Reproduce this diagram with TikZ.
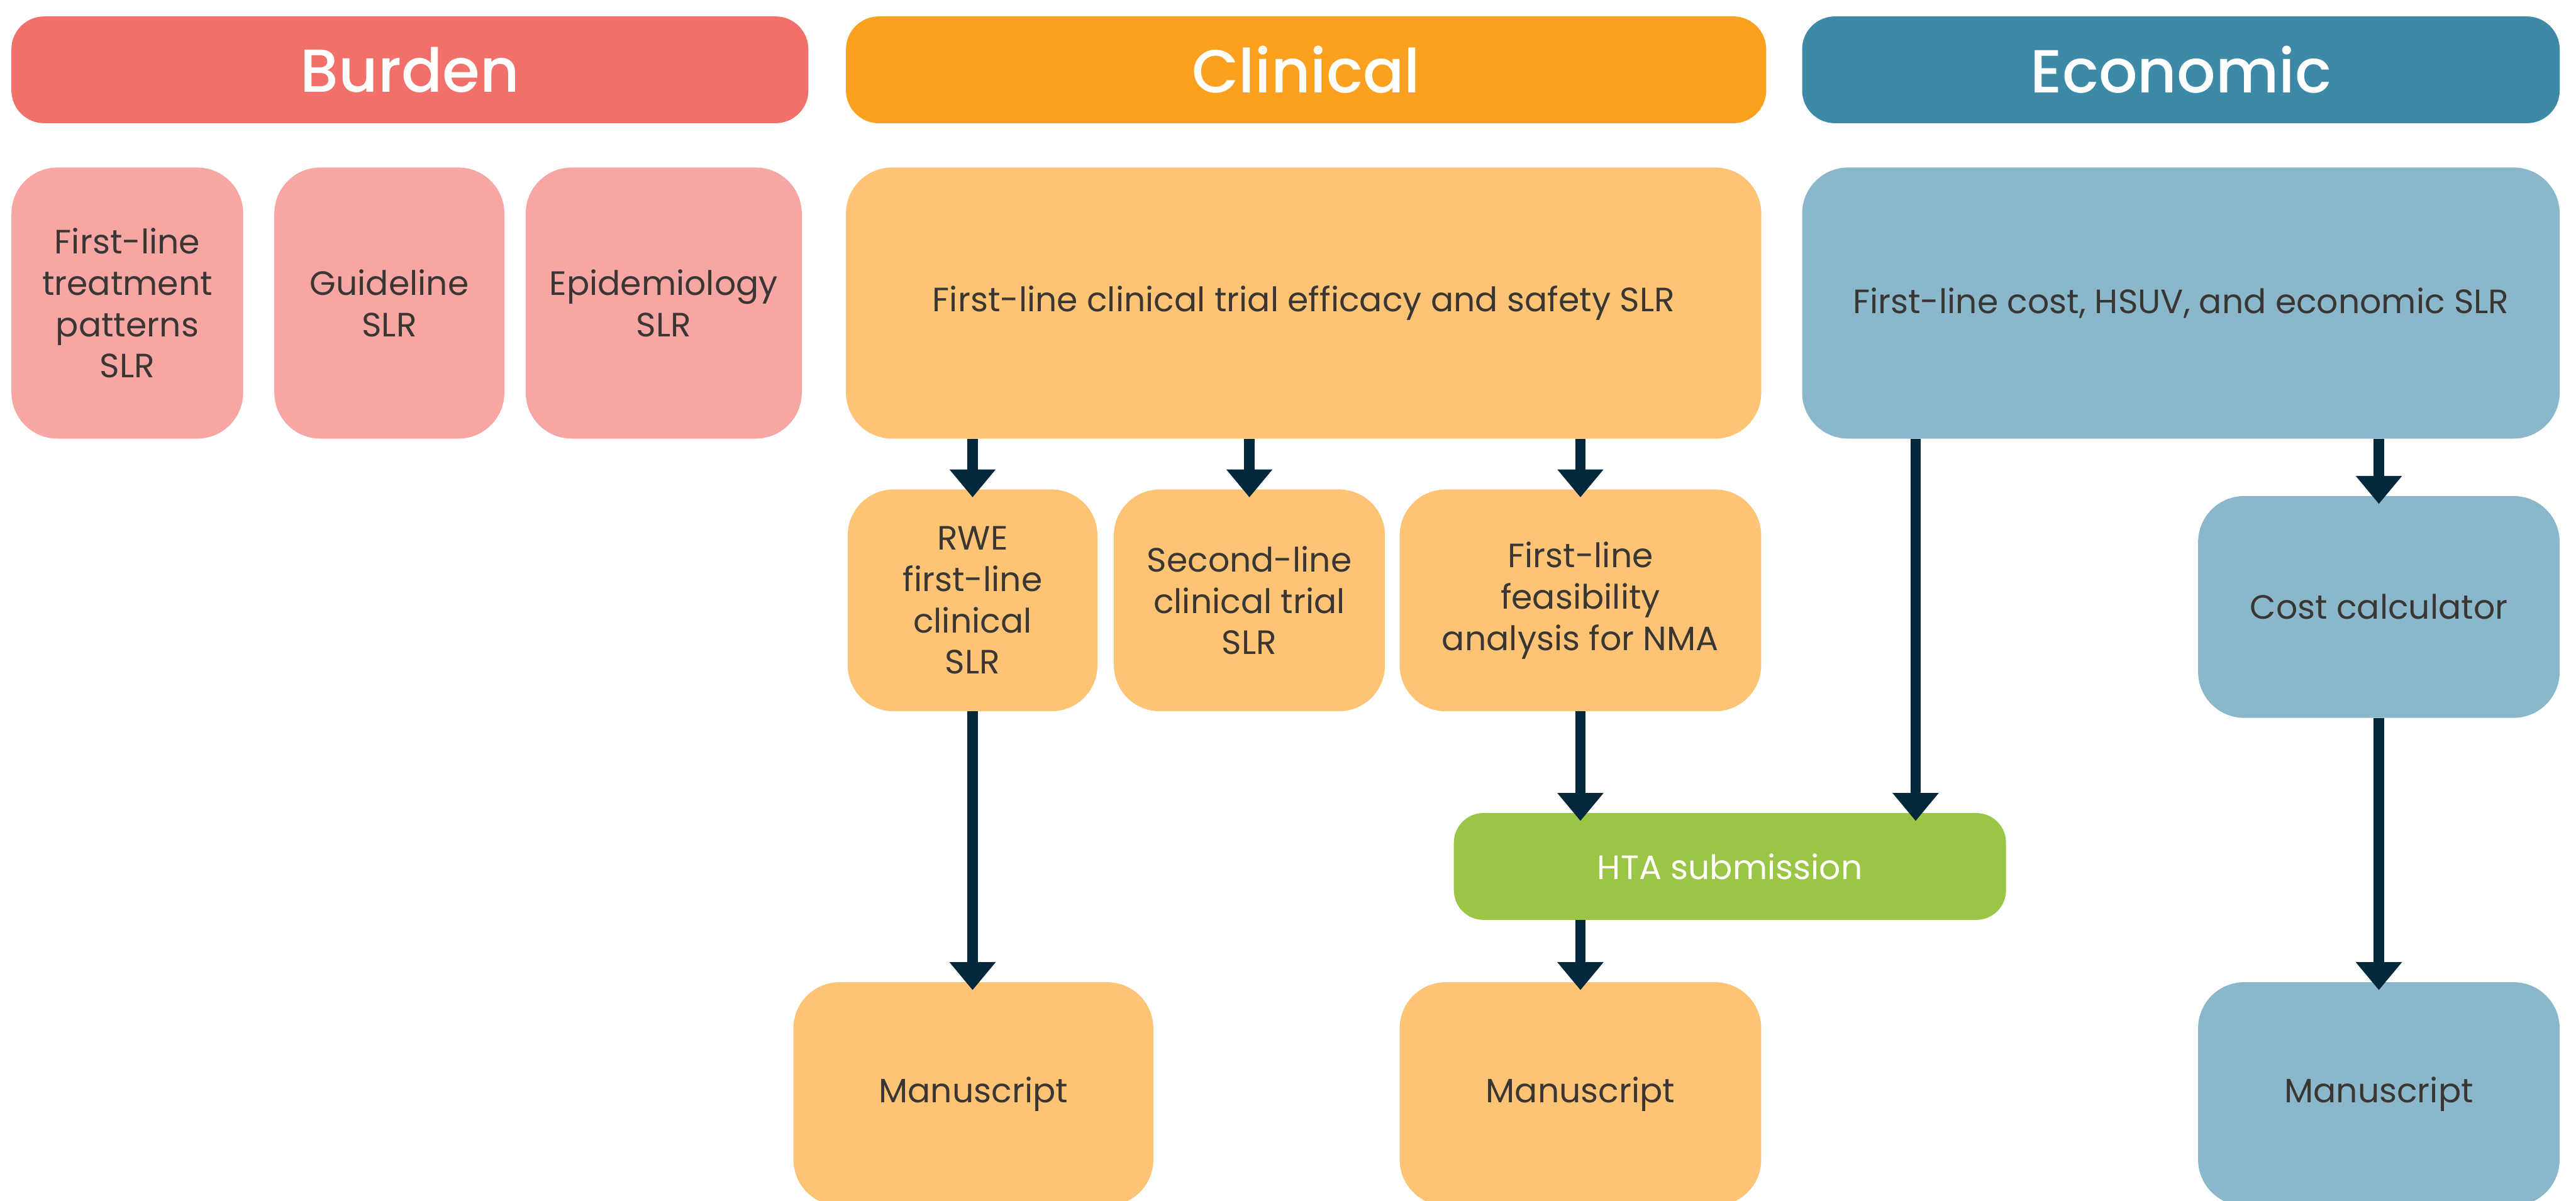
\documentclass[tikz,border=0pt]{standalone}
\usepackage{fontspec}
\setmainfont{Poppins}
\newfontfamily\headfont{Poppins Medium}
\definecolor{burdenred}{HTML}{F1706A}
\definecolor{burdenpink}{HTML}{F6A7A4}
\definecolor{clinorange}{HTML}{FBA11F}
\definecolor{clinpeach}{HTML}{FDC476}
\definecolor{econteal}{HTML}{3D89A8}
\definecolor{econblue}{HTML}{8BB7CB}
\definecolor{htagreen}{HTML}{9BC545}
\definecolor{arrownavy}{HTML}{03283C}
\definecolor{inkgray}{HTML}{3A3634}
\usetikzlibrary{arrows.meta,positioning,calc}

\tikzset{
  header/.style={rectangle, inner sep=0pt, outer sep=0pt, text=white,
    minimum height=1.625cm, rounded corners=0.5cm,
    font=\headfont\fontsize{26.3}{30}\selectfont},
  card/.style={rectangle, inner sep=0pt, outer sep=0pt, text=inkgray,
    align=center, rounded corners=0.7cm,
    font=\fontsize{14.6}{17.9}\selectfont},
  flow/.style={draw=arrownavy, line width=0.16cm,
    -{Triangle[width=0.675cm,length=0.425cm]}, shorten >=-0.12cm}
}

\begin{document}
\begin{tikzpicture}[x=0.025cm, y=-0.025cm]
  \useasboundingbox (0,0) rectangle (1568,731);

  % column headers
  \node[header, fill=burdenred, minimum width=12.125cm] (burden) at (249.5,42.5) {Burden};
  \node[header, fill=clinorange, minimum width=14cm] (clinical) at (795,42.5) {Clinical};
  \node[header, fill=econteal, minimum width=11.525cm] (economic) at (1327.5,42.5) {Economic};

  % burden SLRs
  \node[card, fill=burdenpink, minimum width=3.525cm, minimum height=4.125cm] (treat) at (77.5,184.5)
    {First-line\\treatment\\patterns\\SLR};
  \node[card, fill=burdenpink, minimum width=3.5cm, minimum height=4.125cm] (guide) at (237,184.5)
    {Guideline\\SLR};
  \node[card, fill=burdenpink, minimum width=4.2cm, minimum height=4.125cm] (epi) at (404,184.5)
    {Epidemiology\\SLR};

  % clinical
  \node[card, fill=clinpeach, minimum width=13.925cm, minimum height=4.125cm] (clinslr) at (793.5,184.5)
    {First-line clinical trial efficacy and safety SLR};
  \node[card, fill=clinpeach, minimum width=3.8cm, minimum height=3.375cm] (rwe) at (592,365.5)
    {RWE\\first-line\\clinical\\SLR};
  \node[card, fill=clinpeach, minimum width=4.125cm, minimum height=3.375cm] (second) at (760.5,365.5)
    {Second-line\\clinical trial\\SLR};
  \node[card, fill=clinpeach, minimum width=5.5cm, minimum height=3.375cm] (feas) at (962,365.5)
    {First-line\\feasibility\\analysis for NMA};

  % economic
  \node[card, fill=econblue, minimum width=11.525cm, minimum height=4.125cm] (econslr) at (1327.5,184.5)
    {First-line cost, HSUV, and economic SLR};
  \node[card, fill=econblue, minimum width=5.5cm, minimum height=3.375cm] (cost) at (1448,369.5)
    {Cost calculator};

  % submission and outputs
  \node[card, fill=htagreen, text=white, rounded corners=0.45cm,
    minimum width=8.4cm, minimum height=1.625cm] (hta) at (1053,527.5) {HTA submission};
  \node[card, fill=clinpeach, minimum width=5.475cm, minimum height=3.4cm] (manu1) at (592.5,666) {Manuscript};
  \node[card, fill=clinpeach, minimum width=5.5cm, minimum height=3.4cm] (manu2) at (962,666) {Manuscript};
  \node[card, fill=econblue, minimum width=5.5cm, minimum height=3.4cm] (manu3) at (1448,666) {Manuscript};

  \coordinate (htain) at ([xshift=-1.375cm]hta.north east);

  % connectors
  \draw[flow] (clinslr.south -| rwe) -- (rwe.north);
  \draw[flow] (clinslr.south -| second) -- (second.north);
  \draw[flow] (clinslr.south -| feas) -- (feas.north);
  \draw[flow] (econslr.south -| cost) -- (cost.north);
  \draw[flow] (econslr.south -| htain) -- (htain);
  \draw[flow] (rwe.south) -- (rwe.south |- manu1.north);
  \draw[flow] (feas.south) -- (feas.south |- hta.north);
  \draw[flow] (hta.south -| manu2) -- (manu2.north);
  \draw[flow] (cost.south) -- (manu3.north);
\end{tikzpicture}
\end{document}
